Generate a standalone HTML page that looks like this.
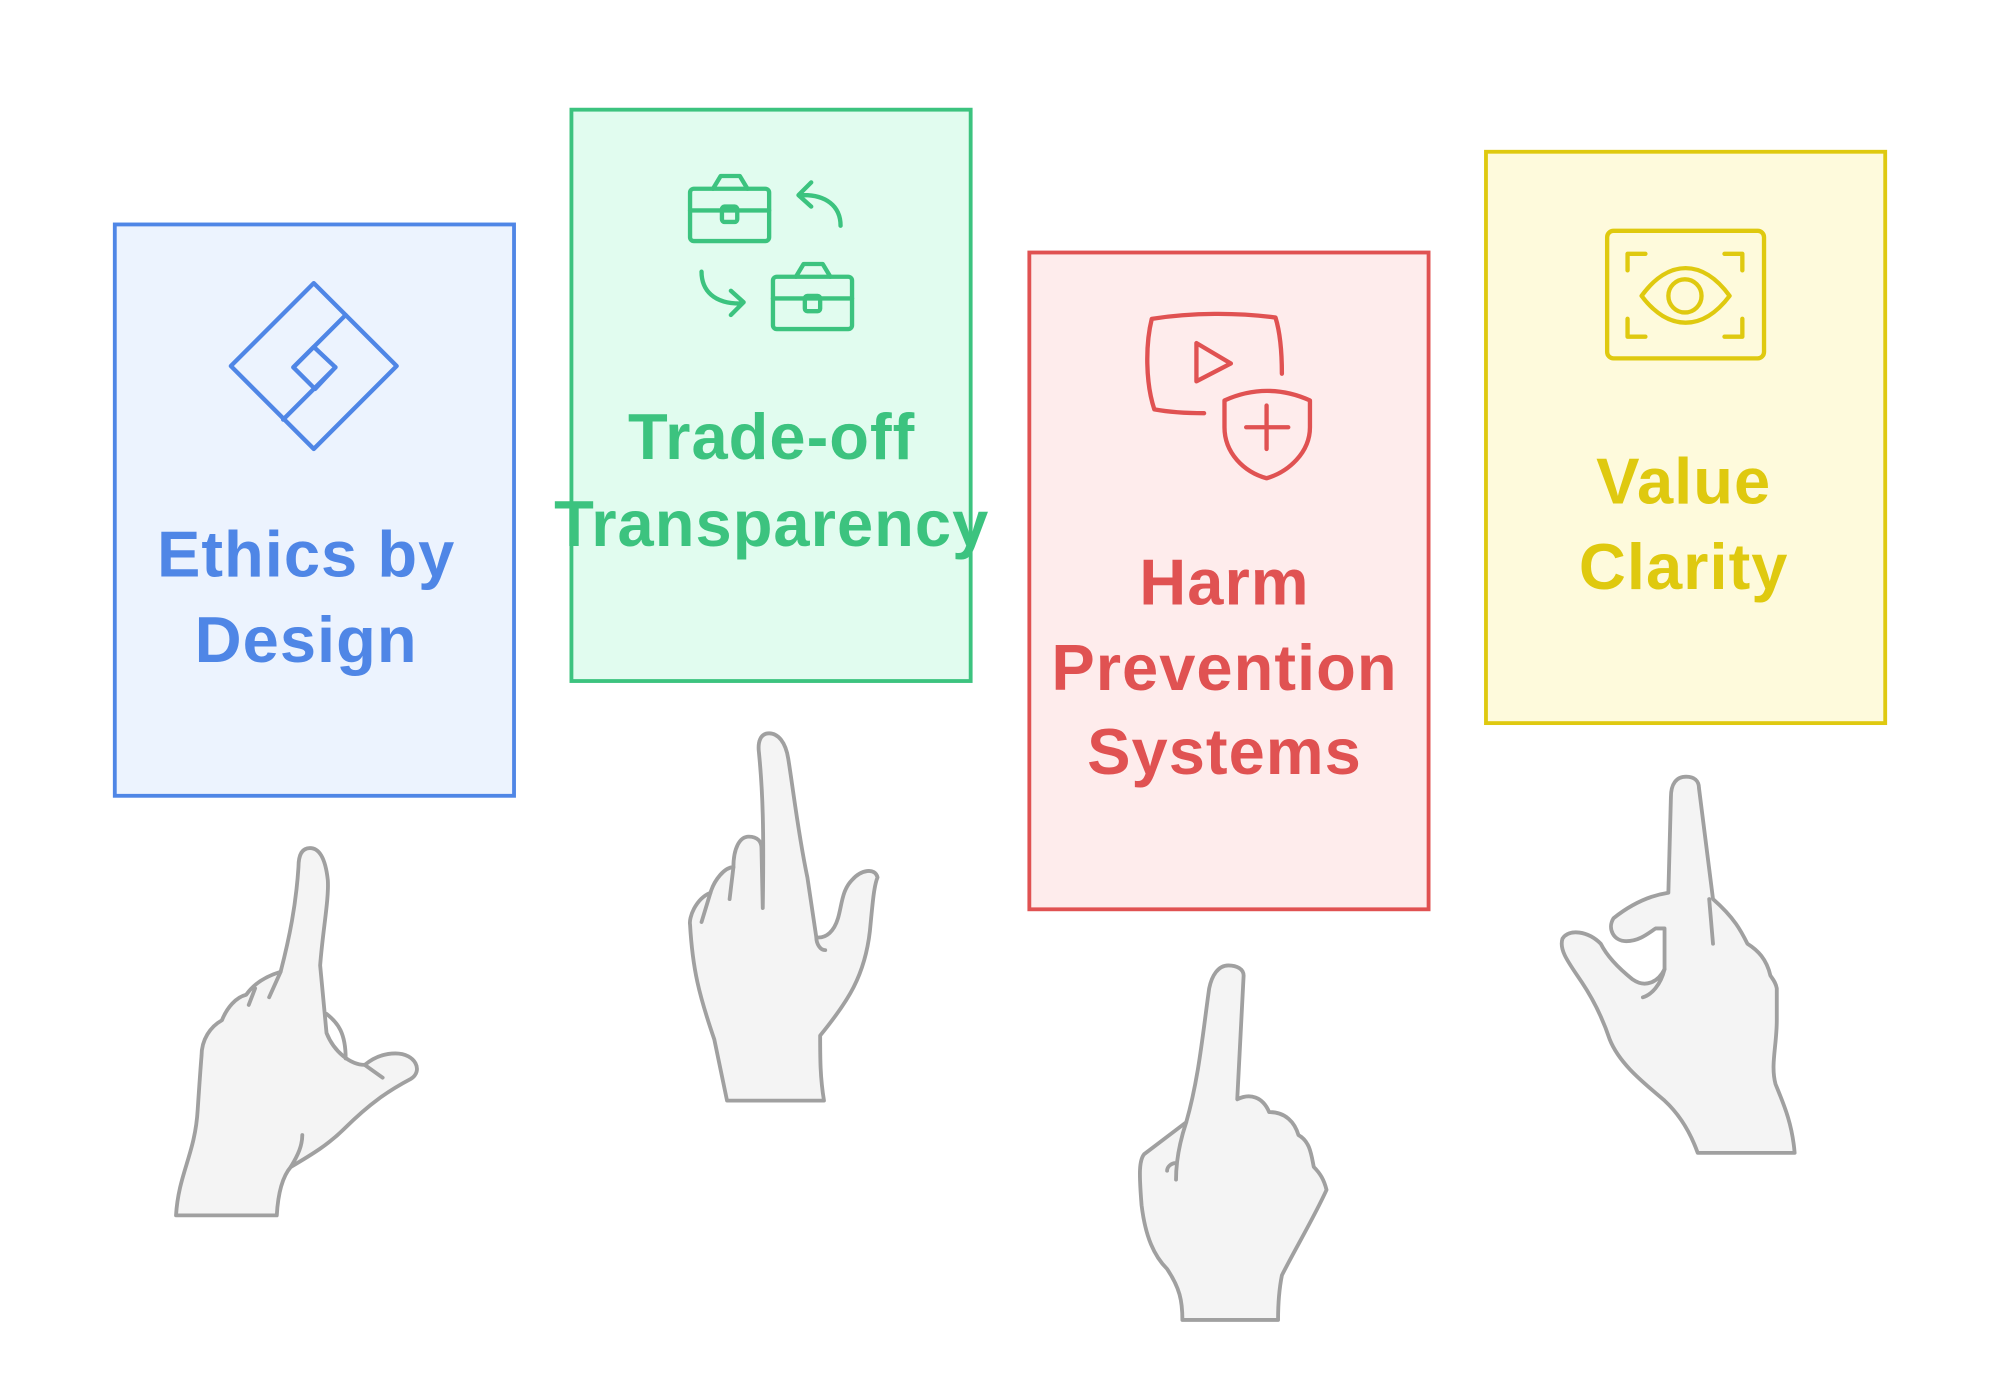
<!DOCTYPE html>
<html><head><meta charset="utf-8"><style>
html,body{margin:0;padding:0;background:#fff;width:2000px;height:1385px;overflow:hidden}
svg{display:block}
text{font-family:"Liberation Sans",sans-serif;font-weight:bold;font-size:51px;text-anchor:middle;letter-spacing:0.8px}
</style></head><body>
<svg width="2000" height="1385" viewBox="0 0 1568 1086" preserveAspectRatio="none" xmlns="http://www.w3.org/2000/svg">
<rect x="90" y="176" width="313" height="448" fill="#ecf3fe" stroke="#4f86e6" stroke-width="3"/>
<rect x="448" y="86" width="313" height="448" fill="#e1fcef" stroke="#3cc37f" stroke-width="3"/>
<rect x="807" y="198" width="313" height="515" fill="#feecec" stroke="#e05252" stroke-width="3"/>
<rect x="1165" y="119" width="313" height="448" fill="#fefadc" stroke="#dfc90f" stroke-width="3"/>

<g fill="none" stroke="#4f86e6" stroke-width="3.4" stroke-linejoin="round" stroke-linecap="round">
<path d="M246,222 L311,287 L246,352 L181,287 Z"/>
<path d="M271,247 L230,288 L247,305 L263,288 L222,329"/>
<path d="M230,288 L246,272 L263,288"/>
</g>
<text x="240" y="452" fill="#4f86e6">Ethics by</text>
<text x="240" y="519" fill="#4f86e6">Design</text>

<g fill="none" stroke="#3cc37f" stroke-width="3.4" stroke-linejoin="round" stroke-linecap="round">
<rect x="541" y="148" width="62" height="41" rx="3"/>
<path d="M541,165 L603,165"/><rect x="566" y="162" width="12" height="12" rx="2"/>
<path d="M559,148 L565,138 L580,138 L586,148"/>
<rect x="606" y="217" width="62" height="41" rx="3"/>
<path d="M606,234 L668,234"/><rect x="631" y="232" width="12" height="12" rx="2"/>
<path d="M624,217 L630,207 L645,207 L651,217"/>
<path d="M659,177 C659,162 648,152 627,153 M636,143 L626,153 L636,162"/>
<path d="M550,213 C550,228 560,238 580,238 M573,228 L583,237 L573,247"/>
</g>
<text x="605" y="360" fill="#3cc37f">Trade-off</text>
<text x="605" y="428" fill="#3cc37f">Transparency</text>

<g fill="none" stroke="#e05252" stroke-width="3.4" stroke-linejoin="round" stroke-linecap="round">
<path d="M944,324 C930,324 916,323 905,321 C898,300 898,270 903,250 C935,245 970,245 1000,249 C1004,262 1005,278 1005,293"/>
<path d="M938,269 L938,299 L965,285 Z"/>
<path d="M960,314 L960,335 C960,355 975,370 993,375 C1010,370 1027,355 1027,335 L1027,314 C1005,304 982,304 960,314 Z"/>
<path d="M993,318 L993,352 M977,335 L1010,335"/>
</g>
<text x="960" y="474" fill="#e05252">Harm</text>
<text x="960" y="541" fill="#e05252">Prevention</text>
<text x="960" y="607" fill="#e05252">Systems</text>

<g fill="none" stroke="#dfc90f" stroke-width="3.4" stroke-linejoin="round" stroke-linecap="round">
<rect x="1260" y="181" width="123" height="100" rx="5"/>
<path d="M1276,212 L1276,199 L1290,199 M1352,199 L1366,199 L1366,212 M1276,250 L1276,264 L1290,264 M1352,264 L1366,264 L1366,250"/>
<path d="M1287,232 C1308,203 1335,203 1356,232 C1335,260 1308,260 1287,232 Z"/>
<circle cx="1321" cy="232" r="13"/>
</g>
<text x="1320" y="395" fill="#dfc90f">Value</text>
<text x="1320" y="462" fill="#dfc90f">Clarity</text>

<g fill="#f4f4f4" stroke="#a0a0a0" stroke-width="3" stroke-linejoin="round" stroke-linecap="round">
<path d="M138,953 L217,953 C218,935 222,922 228,915 C245,905 258,897 270,885 C290,865 305,855 322,846 C332,840 326,826 310,826 C300,826 292,830 286,835 C275,835 262,825 256,810 L251,757 C253,730 258,705 257,690 C255,672 250,665 243,665 C236,665 234,672 234,680 C232,710 227,735 220,762 C210,765 200,770 193,780 C185,782 178,790 174,800 C165,805 158,815 158,828 C157,840 156,855 155,870 C153,905 140,920 138,953 Z"/>
<path d="M228,915 C234,905 237,898 237,890 M286,835 L300,845 M256,795 C265,802 271,810 271,830 M220,762 L211,782 M200,775 L195,788" fill="none"/>
<path d="M570,863 L646,863 C643,845 643,830 643,812 C665,785 678,765 682,730 C684,710 685,695 688,688 C686,680 675,682 668,690 C660,698 660,710 657,720 C654,730 648,736 640,735 L633,688 C626,655 622,620 618,595 C616,582 610,575 603,575 C596,575 594,582 595,590 C598,620 599,650 598,712 L597,665 C597,660 594,656 587,656 C580,656 575,665 575,680 C568,680 560,690 557,700 C545,705 540,720 541,725 C543,760 548,780 560,815 Z"/>
<path d="M640,735 C640,740 643,745 647,745 M575,680 L572,705 M557,700 L550,723" fill="none"/>
<path d="M927,1035 L1002,1035 C1002,1020 1003,1010 1005,1000 C1015,980 1030,955 1040,933 C1038,925 1035,920 1030,915 C1028,905 1027,895 1018,890 C1015,880 1008,872 995,872 C990,860 980,857 970,862 L975,765 C975,760 970,757 963,757 C955,757 950,765 948,775 C943,810 940,845 930,880 L897,905 C893,910 893,920 895,945 C898,970 905,985 915,995 C925,1010 927,1020 927,1035 Z"/>
<path d="M930,880 C925,895 922,910 922,925 M922,912 C918,912 915,915 915,918" fill="none"/>
<path d="M1331,904 L1407,904 C1405,880 1398,865 1392,850 C1388,835 1393,820 1393,800 L1393,775 C1392,770 1390,768 1388,765 C1385,752 1378,745 1370,740 C1365,730 1360,720 1343,705 L1332,618 C1332,612 1328,609 1322,609 C1314,609 1310,615 1310,625 L1308,700 C1295,702 1280,708 1265,720 C1260,728 1265,738 1275,738 C1285,738 1292,732 1298,728 L1305,728 L1305,760 C1300,770 1290,775 1280,768 C1270,760 1260,750 1255,740 C1245,730 1230,728 1225,736 C1222,745 1230,755 1240,770 C1250,785 1257,800 1262,815 C1270,835 1290,850 1305,863 C1318,875 1326,890 1331,904 Z"/>
<path d="M1305,760 C1302,772 1295,780 1288,782 M1340,705 L1343,740" fill="none"/>
</g>
</svg>
</body></html>
